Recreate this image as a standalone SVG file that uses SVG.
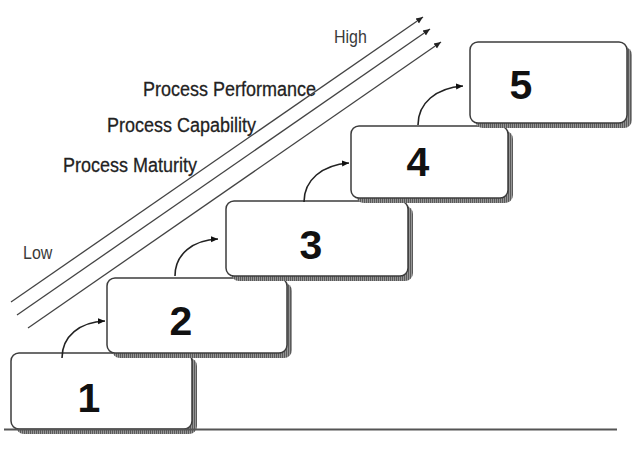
<svg xmlns="http://www.w3.org/2000/svg" width="643" height="456" viewBox="0 0 643 456">
<style>
.box{fill:#fff;stroke:#3c3c3c;stroke-width:1.5}
.shd{fill:url(#hatch)}
.num{font-family:"Liberation Sans",Arial,sans-serif;font-weight:bold;font-size:41px;fill:#111;text-anchor:middle}
.lbl{font-family:"Liberation Sans",Arial,sans-serif;font-size:18px;fill:#222;stroke:#222;stroke-width:0.25}
.lh{font-family:"Liberation Sans",Arial,sans-serif;font-size:16px;fill:#3a3a3a}
.diag{stroke:#444;stroke-width:1.3;fill:none;marker-end:url(#ah)}
.curve{stroke:#222;stroke-width:1.6;fill:none;marker-end:url(#ah2)}
</style>
<defs>
<pattern id="hatch" width="2" height="2" patternUnits="userSpaceOnUse">
<rect x="0" y="0" width="1" height="2" fill="#5a5a5a"/>
<rect x="1" y="0" width="1" height="2" fill="#969696"/>
</pattern>
<marker id="ah" markerWidth="8" markerHeight="8" refX="7" refY="4" orient="auto" markerUnits="userSpaceOnUse">
<path d="M0,1 L7,4 L0,7 Z" fill="#222"/>
</marker>
<marker id="ah2" markerWidth="8" markerHeight="8" refX="7" refY="4" orient="auto" markerUnits="userSpaceOnUse">
<path d="M0,1 L7,4 L0,7 Z" fill="#111"/>
</marker>
</defs>
<rect width="643" height="456" fill="#fff"/>

<g id="labels">
<text class="lbl" transform="translate(143,96) scale(1,1.1)">Process Performance</text>
<text class="lbl" transform="translate(107,132) scale(1,1.1)">Process Capability</text>
<text class="lbl" transform="translate(63,172) scale(1,1.1)">Process Maturity</text>
<text class="lh" transform="translate(334,43) scale(1,1.12)">High</text>
<text class="lh" transform="translate(23,259) scale(1,1.12)">Low</text>
</g>

<g id="axes">
<line class="diag" x1="11" y1="302" x2="423" y2="17"/>
<line class="diag" x1="17" y1="315" x2="430" y2="29"/>
<line class="diag" x1="28" y1="328" x2="441" y2="42"/>
</g>

<g id="step1">
<rect class="shd" x="16" y="358" width="181" height="76" rx="8"/>
<rect class="box" x="11" y="353" width="181" height="76" rx="8"/>
<text class="num" x="89" y="412">1</text>
</g>
<g id="step2">
<rect class="shd" x="112" y="283" width="180" height="75" rx="8"/>
<rect class="box" x="107" y="278" width="180" height="75" rx="8"/>
<text class="num" x="181" y="335">2</text>
</g>
<g id="step3">
<rect class="shd" x="231" y="206" width="182" height="75" rx="8"/>
<rect class="box" x="226" y="201" width="182" height="75" rx="8"/>
<text class="num" x="311" y="259">3</text>
</g>
<g id="step4">
<rect class="shd" x="356" y="131" width="157" height="72" rx="8"/>
<rect class="box" x="351" y="126" width="157" height="72" rx="8"/>
<text class="num" x="418" y="176">4</text>
</g>
<g id="step5">
<rect class="shd" x="475" y="47" width="157" height="81" rx="8"/>
<rect class="box" x="470" y="42" width="157" height="81" rx="8"/>
<text class="num" x="521" y="99">5</text>
</g>

<g id="connectors">
<path class="curve" d="M62,358 C62,336 80,322 105,321"/>
<path class="curve" d="M175,276 C175,254 193,240 218,239"/>
<path class="curve" d="M304,202 C304,180 322,165 349,163"/>
<path class="curve" d="M418,125 C418,103 436,88 463,86"/>
</g>

<line x1="4" y1="429.5" x2="617" y2="429.5" stroke="#555" stroke-width="2"/>
</svg>
